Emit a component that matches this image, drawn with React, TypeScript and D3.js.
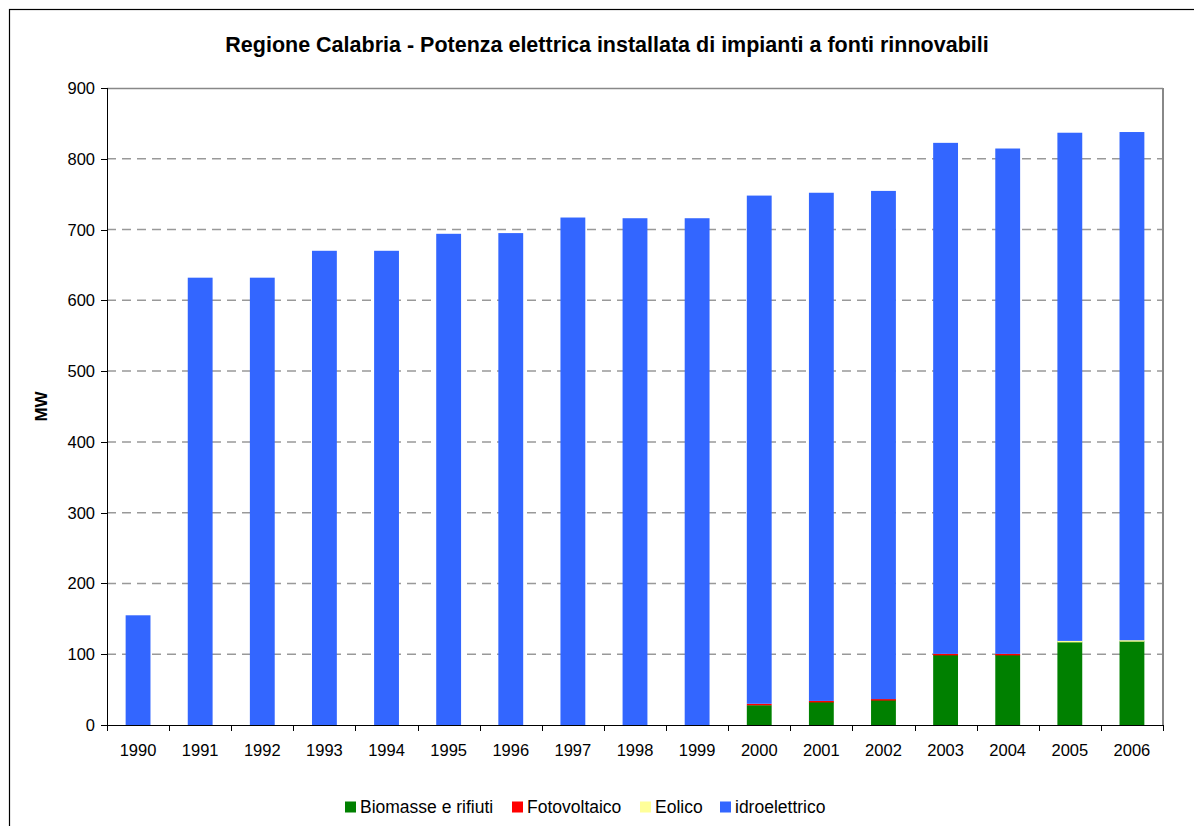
import React from 'react';
import * as d3 from 'd3';

const years = ['1990', '1991', '1992', '1993', '1994', '1995', '1996', '1997', '1998', '1999', '2000', '2001', '2002', '2003', '2004', '2005', '2006'];
const biomasse = [0, 0, 0, 0, 0, 0, 0, 0, 0, 0, 28, 33, 36, 99, 99, 118, 119];
const fotovoltaico = [0, 0, 0, 0, 0, 0, 0, 0, 0, 0, 2, 1, 0.6, 1.5, 1.5, 0, 0];
const eolico = [0, 0, 0, 0, 0, 0, 0, 0, 0, 0, 0, 0, 0, 0, 0, 0.8, 0.8];
const idroelettrico = [155, 632, 632, 670, 670, 694, 695, 717, 716, 716, 718, 718, 718, 722, 714, 718, 718];
const yTicks = [0, 100, 200, 300, 400, 500, 600, 700, 800, 900];

const seriesNames = ['Biomasse e rifiuti', 'Fotovoltaico', 'Eolico', 'idroelettrico'];
const seriesColors = ['#008000', '#ff0000', '#ffff99', '#3366ff'];

const W = 1194;
const H = 826;
const margin = { top: 88, right: 31, bottom: 101, left: 107 };
const font = '"Liberation Sans", Arial, sans-serif';

export default function App() {
  const width = W - margin.left - margin.right;
  const height = H - margin.top - margin.bottom;

  const x = d3.scaleBand().domain(years).range([0, width]).paddingInner(0.6).paddingOuter(0.3);
  const y = d3.scaleLinear().domain([0, 900]).range([height, 0]);
  const step = width / years.length;

  const table = years.map((yr, i) => ({
    year: yr,
    s0: biomasse[i],
    s1: fotovoltaico[i],
    s2: eolico[i],
    s3: idroelettrico[i],
  }));
  const stacked = d3.stack<any>().keys(['s0', 's1', 's2', 's3'])(table);

  const legendX = [345, 512, 640, 720];

  return (
    <svg width={W} height={H} style={{ position: 'absolute', left: 0, top: 0 }} fontFamily={font}>
      <rect x={0} y={0} width={W} height={H} fill="#fff" />
      <rect x={9.5} y={9.5} width={W + 20} height={H + 20} fill="none" stroke="#000" strokeWidth={1.2} />
      <text x={607} y={52} textAnchor="middle" fontSize={21.5} fontWeight="bold">
        Regione Calabria - Potenza elettrica installata di impianti a fonti rinnovabili
      </text>
      <text transform={`translate(47,${margin.top + height / 2}) rotate(-90)`} textAnchor="middle" fontSize={17} fontWeight="bold">
        MW
      </text>
      <g transform={`translate(${margin.left},${margin.top})`}>
        {yTicks.filter(t => t > 0 && t < 900).map(t => (
          <line key={t} x1={0} x2={width} y1={y(t)} y2={y(t)} stroke="#999" strokeWidth={1.5} strokeDasharray="9,6" />
        ))}
        <line x1={0} x2={width} y1={0.5} y2={0.5} stroke="#888" strokeWidth={1.5} />
        <line x1={width} x2={width} y1={0} y2={height} stroke="#888" strokeWidth={2} />
        {stacked.map((layer, si) => (
          <g key={si} fill={seriesColors[si]}>
            {layer.map((d, i) => {
              const h = y(d[0]) - y(d[1]);
              if (h <= 0) return null;
              return <rect key={i} x={x(years[i])} y={y(d[1])} width={x.bandwidth()} height={Math.max(h, 1.5)} />;
            })}
          </g>
        ))}
        <line x1={0.5} x2={0.5} y1={0} y2={height} stroke="#000" />
        <line x1={0} x2={width} y1={height + 0.5} y2={height + 0.5} stroke="#000" />
        {yTicks.map(t => (
          <g key={t} transform={`translate(0,${Math.round(y(t)) + 0.5})`}>
            <line x1={-6} x2={0} stroke="#000" />
            <text x={-12} dy="0.35em" textAnchor="end" fontSize={16.5}>{t}</text>
          </g>
        ))}
        {d3.range(years.length + 1).map(i => (
          <line key={i} x1={Math.round(i * step) + 0.5} x2={Math.round(i * step) + 0.5} y1={height} y2={height + 6} stroke="#000" />
        ))}
        {years.map(yr => (
          <text key={yr} x={(x(yr) as number) + x.bandwidth() / 2} y={height + 31} textAnchor="middle" fontSize={16.5}>
            {yr}
          </text>
        ))}
      </g>
      <g transform="translate(0,807)">
        {seriesNames.map((n, i) => (
          <g key={n} transform={`translate(${legendX[i]},0)`}>
            <rect x={0} y={-5.5} width={11} height={11} fill={seriesColors[i]} />
            <text x={15} dy="0.36em" fontSize={17.5}>{n}</text>
          </g>
        ))}
      </g>
    </svg>
  );
}
